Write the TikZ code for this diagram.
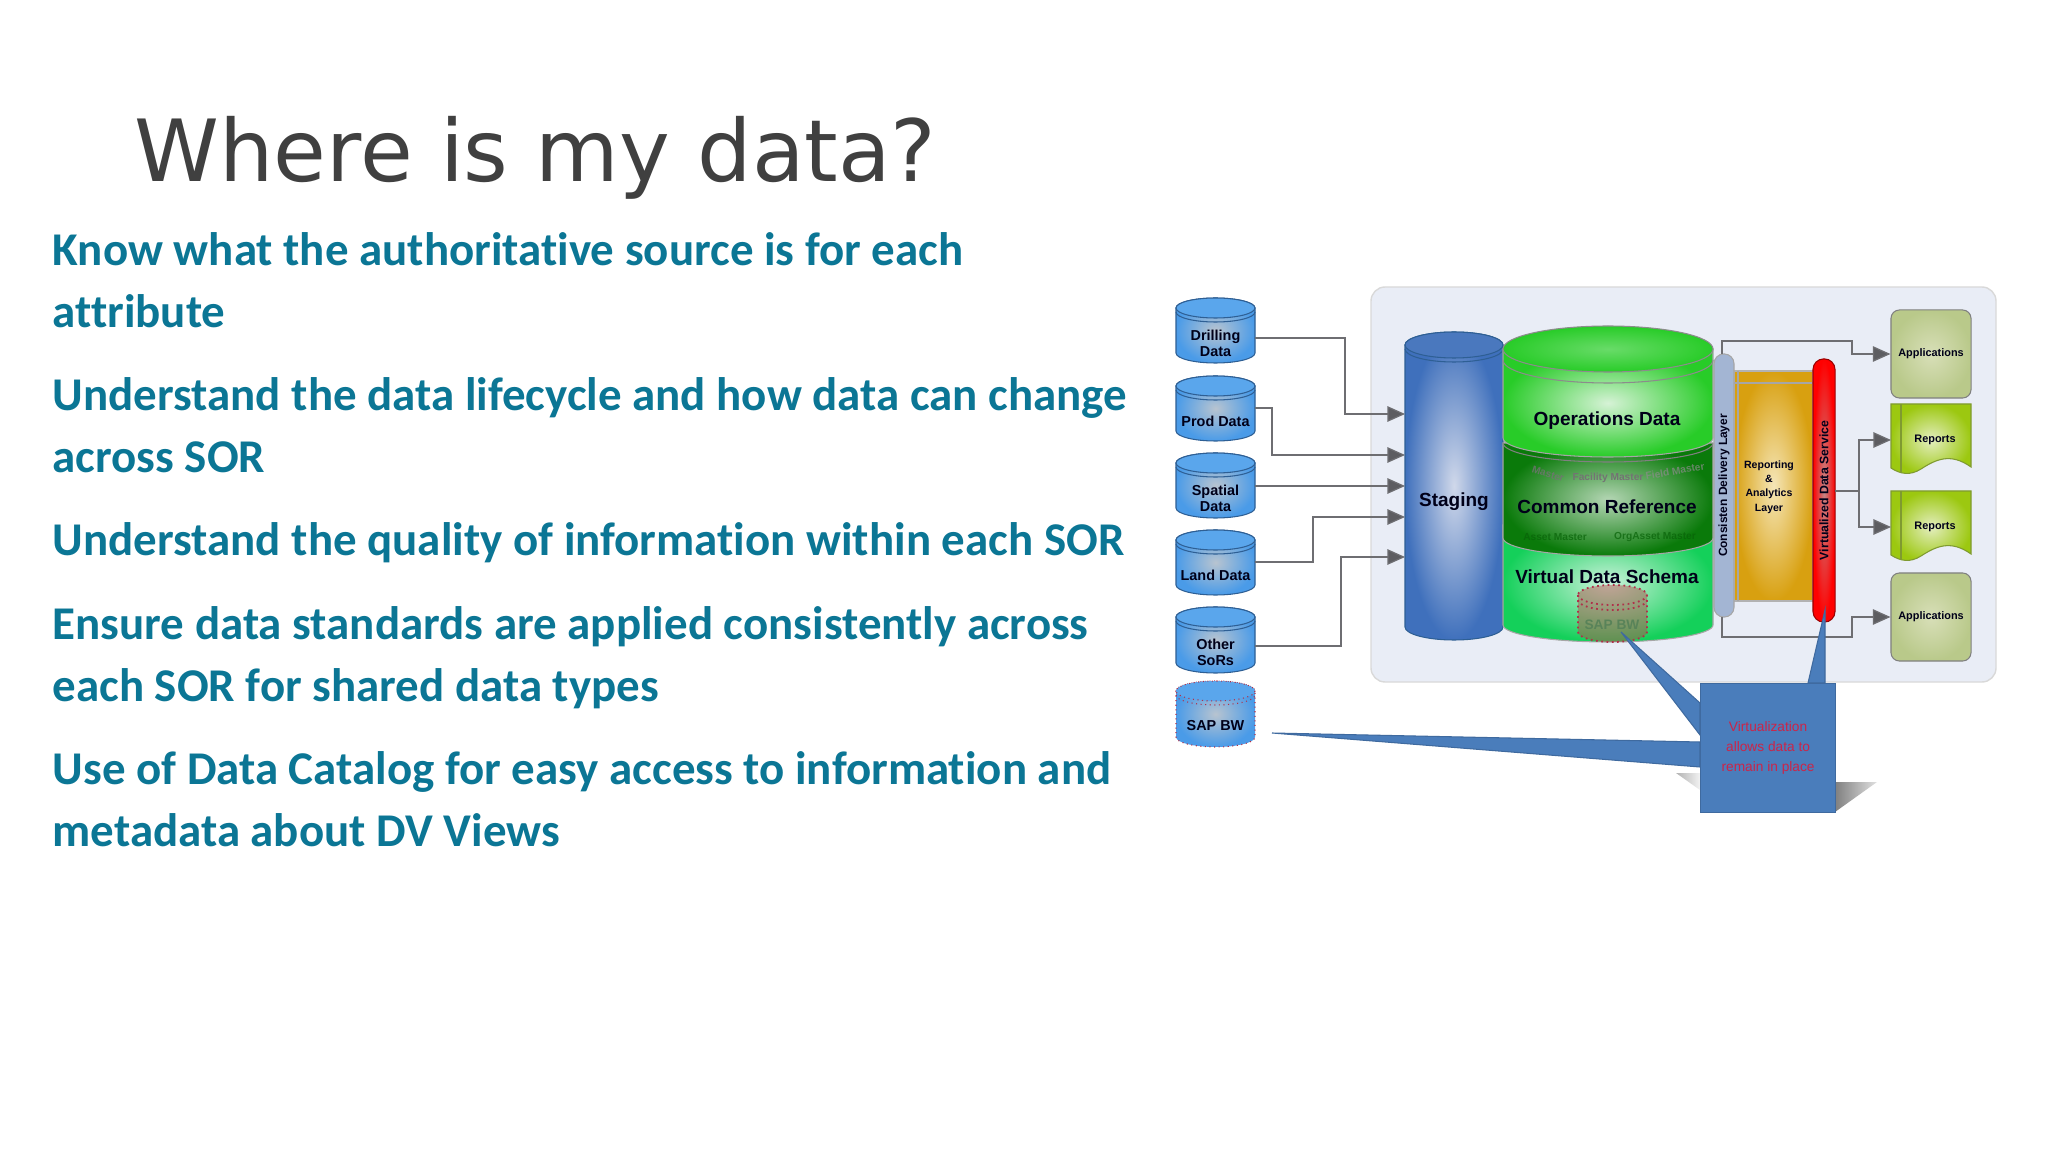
\documentclass[tikz,border=0pt]{standalone}
\usepackage{fontspec}
\setmainfont{Carlito}[Ligatures=NoCommon]
\newfontfamily\titlefont{DejaVu Sans}
\newfontfamily\chartfont{Liberation Sans}
\usetikzlibrary{arrows.meta}

\definecolor{titlegray}{HTML}{404040}
\definecolor{bodyteal}{HTML}{0B7695}
\definecolor{panelblue}{HTML}{E9EDF6}
\definecolor{linegray}{HTML}{6E6E72}
\definecolor{calloutblue}{HTML}{4A7DBB}
\definecolor{calloutred}{HTML}{CC2448}
\definecolor{canouter}{HTML}{4A9BE8}
\definecolor{caninner}{HTML}{B8C4D0}
\definecolor{cantop}{HTML}{5AA6EC}
\definecolor{canedge}{HTML}{2E5F94}
\definecolor{stageouter}{HTML}{3F70BC}
\definecolor{stageinner}{HTML}{D0D8EA}
\definecolor{stagetop}{HTML}{4A78BE}
\definecolor{opsouter}{HTML}{28CC28}
\definecolor{opsinner}{HTML}{D6F2D6}
\definecolor{refouter}{HTML}{0A7A0A}
\definecolor{refinner}{HTML}{B4D6B4}
\definecolor{schemaouter}{HTML}{14D05A}
\definecolor{schemainner}{HTML}{CCF2DC}
\definecolor{appouter}{HTML}{B9C98A}
\definecolor{appinner}{HTML}{D8DFB8}
\definecolor{sheetouter}{HTML}{9CC810}
\definecolor{sheetinner}{HTML}{E4EEC0}
\definecolor{sheetedge}{HTML}{7F9A30}
\definecolor{layerouter}{HTML}{D8A010}
\definecolor{layerinner}{HTML}{F5E6B8}
\definecolor{deliveryfill}{HTML}{A3B5D3}
\definecolor{dotred}{HTML}{B0304A}

\tikzset{
    bullet/.style={font=\fontsize{13.35pt}{17.6pt}\selectfont\bfseries, text=bodyteal, anchor=north west, align=left, inner sep=0pt},
    flowline/.style={draw=linegray, line width=.35pt, -{Triangle[length=5pt,width=4.4pt,fill=linegray!85!black]}},
    chartlabel/.style={font=\chartfont\bfseries\fontsize{#1pt}{\dimexpr#1pt*6/5\relax}\selectfont, text=black!90!blue, align=center, inner sep=0pt},
    smallcan/.style={inner color=caninner, outer color=canouter},
    appbox/.style={draw=gray, line width=.3pt, rounded corners=2.4pt, minimum width=.8cm, minimum height=.88cm, inner color=appinner, outer color=appouter, chartlabel=3.1},
    blurlabel/.style={font=\chartfont\bfseries\fontsize{2.9pt}{3.4pt}\selectfont, inner sep=0pt},
}

% can body with lip, in picture pixels
\newcommand{\dbcan}[8]{
    \shade[#8, draw=#7, line width=.3pt] (#1,#3+#5) -- (#1,#4-#5) arc[start angle=180,end angle=0,x radius={(#2-#1)/2},y radius=#5] -- (#2,#3+#5) arc[start angle=0,end angle=-180,x radius={(#2-#1)/2},y radius=#5] -- cycle;
    \fill[#6] ({(#1+#2)/2},#3+#5) ellipse[x radius={(#2-#1)/2},y radius=#5];
    \draw[#7, line width=.3pt] ({(#1+#2)/2},#3+#5) ellipse[x radius={(#2-#1)/2},y radius=#5];
    \draw[#7, line width=.3pt] (#1,#3+#5+4) arc[start angle=180,end angle=0,x radius={(#2-#1)/2},y radius=#5];
}
% one band of the big store
\newcommand{\dbband}[4]{
    \shade[#4, draw=black!35, line width=.3pt] (1503,#1) -- (1503,#2) arc[start angle=180,end angle=0,x radius=105,y radius=#3] -- (1713,#1) -- cycle;
}
% report sheet with wavy foot
\newcommand{\reportsheet}[1]{
    \shade[inner color=sheetinner, outer color=sheetouter, draw=sheetedge, line width=.3pt] (1891,#1) -- (1971,#1) -- (1971,#1+63) .. controls (1950,#1+48) and (1935,#1+56) .. (1921,#1+65) .. controls (1910,#1+72) and (1900,#1+70) .. (1891,#1+64) -- cycle;
    \draw[sheetedge, line width=.3pt] (1901,#1) -- (1901,#1+69);
}

\begin{document}
\begin{tikzpicture}[x=.01cm,y=-.01cm]
    \useasboundingbox (0,0) rectangle (2048,1152);
    \fill[white] (0,0) rectangle (2048,1152);

    % slide text
    \node[font=\titlefont\fontsize{24.4pt}{30pt}\selectfont, text=titlegray, anchor=base west, inner sep=0pt] (slidetitle) at (134,182) {Where is my data?};
    \node[bullet] (know) at (52,232) {Know what the authoritative source is for each\\attribute};
    \node[bullet] (cycle) at (52,377) {Understand the data lifecycle and how data can change\\across SOR};
    \node[bullet] (quality) at (52,522) {Understand the quality of information within each SOR};
    \node[bullet] (standard) at (52,606) {Ensure data standards are applied consistently across\\each SOR for shared data types};
    \node[bullet] (catalog) at (52,751) {Use of Data Catalog for easy access to information and\\metadata about DV Views};

    % panel
    \draw[draw=black!15, fill=panelblue, line width=.4pt, rounded corners=4pt] (1371,287) rectangle (1996,682);

    % sources
    \dbcan{1176}{1255}{298}{363}{10}{cantop}{canedge}{smallcan}
    \dbcan{1176}{1255}{376}{441}{10}{cantop}{canedge}{smallcan}
    \dbcan{1176}{1255}{453}{518}{10}{cantop}{canedge}{smallcan}
    \dbcan{1176}{1255}{530}{595}{10}{cantop}{canedge}{smallcan}
    \dbcan{1176}{1255}{607}{673}{10}{cantop}{canedge}{smallcan}
    \dbcan{1176}{1255}{681}{747}{10}{cantop}{dotred, densely dotted}{smallcan}
    \node[chartlabel=4.1, minimum width=.79cm] (drilling) at (1215.5,343) {Drilling\\[-.3pt]Data};
    \node[chartlabel=4.1, minimum width=.79cm] (prod) at (1215.5,421) {Prod Data};
    \node[chartlabel=4.1, minimum width=.79cm] (spatial) at (1215.5,498) {Spatial\\[-.3pt]Data};
    \node[chartlabel=4.1, minimum width=.79cm] (land) at (1215.5,575) {Land Data};
    \node[chartlabel=4.1, minimum width=.79cm] (other) at (1215.5,652) {Other\\[-.3pt]SoRs};
    \node[chartlabel=4.1, minimum width=.79cm] (sapsource) at (1215.5,726) {SAP BW};

    % staging
    \dbcan{1405}{1503}{332}{640}{13}{stagetop}{canedge}{inner color=stageinner, outer color=stageouter}
    \node[chartlabel=5.4] (staging) at (1454,502) {Staging};

    % big store, lowest band first
    \dbband{525}{625}{17}{inner color=schemainner, outer color=schemaouter}
    \draw[black!45, line width=.3pt] (1503,532) arc[start angle=180,end angle=0,x radius=105,y radius=18];
    \dbband{443}{538}{18}{inner color=refinner, outer color=refouter}
    \draw[black!50, line width=.3pt] (1503,443) arc[start angle=180,end angle=0,x radius=105,y radius=19];
    \dbband{349}{438}{19}{inner color=opsinner, outer color=opsouter}
    \shade[inner color=opsouter!70!white, outer color=opsouter] (1608,349) ellipse[x radius=105,y radius=23];
    \draw[black!45, line width=.3pt] (1608,349) ellipse[x radius=105,y radius=23];
    \draw[black!45, line width=.3pt] (1503,360) arc[start angle=180,end angle=0,x radius=105,y radius=23];
    \node[chartlabel=5.4] (operations) at (1607,421) {Operations Data};
    \node[chartlabel=5.4] (commonref) at (1607,507) {Common Reference};
    \node[chartlabel=5.4] (virtual) at (1607,577) {Virtual Data Schema};
    \node[blurlabel, text=black!55, opacity=.8, rotate=-17] (masterleft) at (1548,474) {Master};
    \node[blurlabel, text=black!55] (mastermid) at (1608,478) {Facility Master};
    \node[blurlabel, text=black!45, opacity=.7, rotate=10] (masterright) at (1675,471) {Field Master};
    \node[blurlabel, text=refouter!80!black, opacity=.7] (assetfoot) at (1555,537) {Asset Master};
    \node[blurlabel, text=refouter!80!black, opacity=.7] (orgfoot) at (1655,537) {OrgAsset Master};

    % SAP BW inside the store
    \fill[red!45!gray, opacity=.45] (1578,595) -- (1578,632) arc[start angle=180,end angle=0,x radius=34.5,y radius=10] -- (1647,595) arc[start angle=0,end angle=-180,x radius=34.5,y radius=10] -- cycle;
    \draw[dotred, densely dotted, line width=.5pt] (1578,595) -- (1578,632) arc[start angle=180,end angle=0,x radius=34.5,y radius=10] -- (1647,595) arc[start angle=0,end angle=-180,x radius=34.5,y radius=10] -- cycle;
    \draw[dotred, densely dotted, line width=.5pt] (1578,595) arc[start angle=180,end angle=0,x radius=34.5,y radius=10];
    \draw[dotred, densely dotted, line width=.5pt] (1578,600) arc[start angle=180,end angle=0,x radius=34.5,y radius=10];
    \node[font=\chartfont\bfseries\fontsize{3.9pt}{4.5pt}\selectfont, text=black!45!green!30!gray] (sapstore) at (1612,625) {SAP BW};

    % reporting layer
    \shade[inner color=layerinner, outer color=layerouter, draw=black!30, line width=.3pt] (1734,371) rectangle (1813,601);
    \draw[black!35, line width=.3pt] (1734,383) -- (1813,383) (1738,371) -- (1738,601);
    \node[chartlabel=3] (reporting) at (1769,487) {Reporting\\[.5pt]\&\\[.5pt]Analytics\\[.5pt]Layer};
    \node[draw=black!35, line width=.3pt, fill=deliveryfill, rounded corners=2.8pt, rotate=90, minimum width=2.63cm, minimum height=.2cm, inner sep=0pt, chartlabel=3.4] (delivery) at (1724,485.5) {Consisten Delivery Layer};
    \node[draw=red!60!black, line width=.3pt, inner color=red!35!gray!70, outer color=red, rounded corners=3pt, rotate=90, minimum width=2.63cm, minimum height=.22cm, inner sep=0pt, chartlabel=3.5] (service) at (1824,490.5) {Virtualized Data Service};

    % consumers
    \node[appbox] (appstop) at (1931,354) {Applications};
    \node[appbox] (appsfoot) at (1931,617) {Applications};
    \reportsheet{404}
    \reportsheet{491}
    \node[chartlabel=3.1, minimum width=.7cm] (reportone) at (1935,440) {Reports};
    \node[chartlabel=3.1, minimum width=.7cm] (reporttwo) at (1935,527) {Reports};
    \coordinate (reportonein) at (1891,440);
    \coordinate (reporttwoin) at (1891,527);

    % feeds into staging
    \coordinate (drillingout) at (1255,338);
    \coordinate (otherout) at (1255,646);
    \coordinate (drillingin) at (1405,414);
    \coordinate (prodin) at (1405,455);
    \coordinate (spatialin) at (1405,486);
    \coordinate (landin) at (1405,517);
    \coordinate (otherin) at (1405,557);
    \coordinate (prodout) at (1255,408);
    \coordinate (spatialout) at (1255,486);
    \coordinate (landout) at (1255,562);
    \draw[flowline] (drillingout) -| (1345,414) -- (drillingin);
    \draw[flowline] (prodout) -| (1272,455) -- (prodin);
    \draw[flowline] (spatialout) -- (spatialin);
    \draw[flowline] (landout) -| (1313,517) -- (landin);
    \draw[flowline] (otherout) -| (1341,557) -- (otherin);

    % feeds out
    \coordinate (deliverytop) at (1722,354);
    \coordinate (deliveryfoot) at (1722,617);
    \coordinate (serviceout) at (1835,491);
    \draw[flowline] (deliverytop) |- (1852,341) |- (appstop.west);
    \draw[flowline] (deliveryfoot) |- (1852,637) |- (appsfoot.west);
    \draw[flowline] (serviceout) -| (1859,440) -- (reportonein);
    \draw[flowline] (serviceout) -| (1859,527) -- (reporttwoin);

    % callout
    \shade[left color=black!30, right color=black!5] (1676,773) -- (1700,773) -- (1700,790) -- cycle;
    \shade[left color=black!50, right color=black!12] (1835,782) -- (1877,782) -- (1835,812) -- cycle;
    \coordinate (tipsap) at (1272,733);
    \coordinate (tipstore) at (1621,632);
    \coordinate (tipservice) at (1825,610);
    \node[fill=calloutblue, draw=calloutblue!85!black, line width=.3pt, minimum width=1.35cm, minimum height=1.29cm, inner sep=0pt, anchor=north west, align=center, font=\chartfont\fontsize{3.9pt}{5.6pt}\selectfont, text=calloutred] (callout) at (1700,683) {Virtualization\\allows data to\\remain in place};
    \fill[calloutblue, draw=calloutblue!85!black, line width=.3pt] (tipsap) -- (callout.west |- 0,742) -- (callout.west |- 0,767) -- cycle;
    \fill[calloutblue, draw=calloutblue!85!black, line width=.3pt] (tipstore) -- (callout.west |- 0,703) -- (callout.west |- 0,735) -- cycle;
    \fill[calloutblue, draw=calloutblue!85!black, line width=.3pt] (tipservice) -- (1808,683) -- (1825,683) -- cycle;
\end{tikzpicture}
\end{document}
